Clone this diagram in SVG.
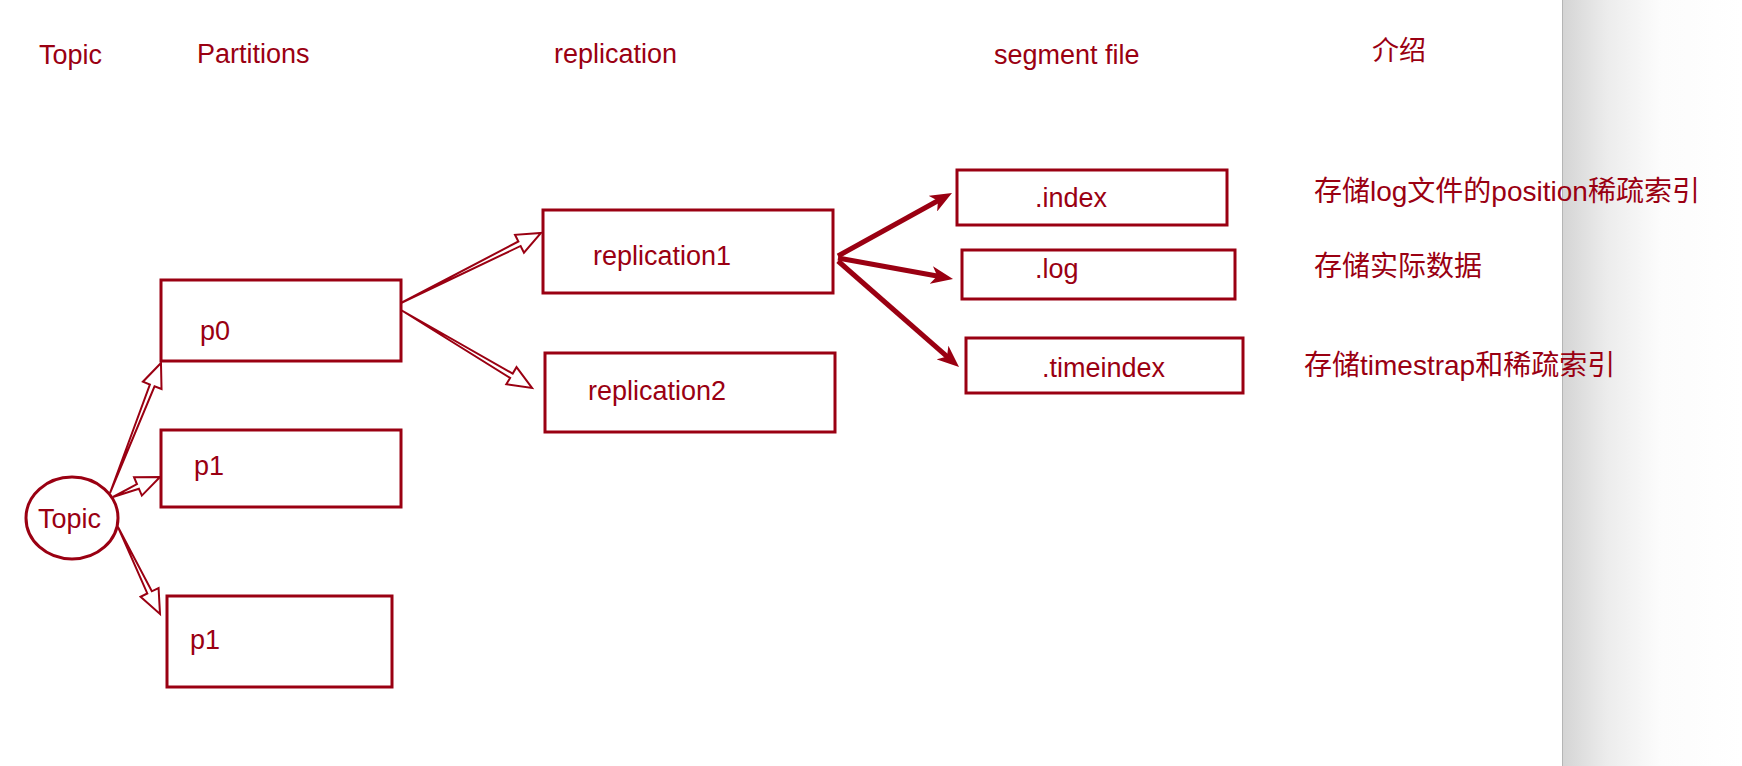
<svg xmlns="http://www.w3.org/2000/svg" width="1742" height="766" viewBox="0 0 1742 766">
<defs>
<linearGradient id="panel" x1="0" y1="0" x2="1" y2="0">
<stop offset="0" stop-color="#d4d4d4"/>
<stop offset="0.25" stop-color="#ececec"/>
<stop offset="0.55" stop-color="#fcfcfc"/>
<stop offset="1" stop-color="#ffffff"/>
</linearGradient>
<marker id="solid" viewBox="0 0 22 18" markerWidth="22" markerHeight="18" refX="10" refY="9" orient="auto" markerUnits="userSpaceOnUse">
<path d="M0,0 L22,9 L0,18 L6,9 z" fill="#9a0012"/>
</marker>
</defs>
<style>
text{font-family:"Liberation Sans","Noto Sans CJK SC",sans-serif;font-size:27px;fill:#9a0012}
.desc{font-size:28px}
.box{fill:#fff;stroke:#9a0012;stroke-width:3}
.hollow{fill:#fff;stroke:#9a0012;stroke-width:2;stroke-linejoin:miter}
.solid{stroke:#9a0012;stroke-width:5;fill:none;marker-end:url(#solid)}
</style>
<rect x="1562" y="0" width="180" height="766" fill="url(#panel)"/>
<line x1="1562.5" y1="0" x2="1562.5" y2="766" stroke="#b5b5b5" stroke-width="1"/>

<g id="headers">
<text x="39" y="64">Topic</text>
<text x="197" y="63">Partitions</text>
<text x="554" y="63">replication</text>
<text x="994" y="64">segment file</text>
<text x="1372" y="60">介绍</text>
</g>

<g id="connectors">
<polygon class="hollow" transform="translate(110,493) rotate(-68.58)" points="0,0 115.6,-2.5 115.6,-10 139.6,0 115.6,10 115.6,2.5"/>
<polygon class="hollow" transform="translate(113,497) rotate(-23.05)" points="0,0 27.1,-2.5 27.1,-10 51.1,0 27.1,10 27.1,2.5"/>
<polygon class="hollow" transform="translate(118,527) rotate(64.23)" points="0,0 72.6,-2.5 72.6,-10 96.6,0 72.6,10 72.6,2.5"/>
<polygon class="hollow" transform="translate(401,303) rotate(-26.57)" points="0,0 132.5,-2.5 132.5,-10 156.5,0 132.5,10 132.5,2.5"/>
<polygon class="hollow" transform="translate(401,310) rotate(30.77)" points="0,0 128.5,-2.5 128.5,-10 152.5,0 128.5,10 128.5,2.5"/>
<line class="solid" x1="838" y1="256" x2="941.5" y2="198.8"/>
<line class="solid" x1="838" y1="258" x2="941.2" y2="276.8"/>
<line class="solid" x1="838" y1="261" x2="950" y2="359.1"/>
</g>

<g id="topic">
<ellipse class="box" cx="72" cy="518" rx="46" ry="41"/>
<text x="38" y="528">Topic</text>
</g>
<g id="p0">
<rect class="box" x="161" y="280" width="240" height="81"/>
<text x="200" y="340">p0</text>
</g>
<g id="p1a">
<rect class="box" x="161" y="430" width="240" height="77"/>
<text x="194" y="475">p1</text>
</g>
<g id="p1b">
<rect class="box" x="167" y="596" width="225" height="91"/>
<text x="190" y="649">p1</text>
</g>
<g id="replication1">
<rect class="box" x="543" y="210" width="290" height="83"/>
<text x="593" y="265">replication1</text>
</g>
<g id="replication2">
<rect class="box" x="545" y="353" width="290" height="79"/>
<text x="588" y="400">replication2</text>
</g>
<g id="index">
<rect class="box" x="957" y="170" width="270" height="55"/>
<text x="1035" y="207">.index</text>
</g>
<g id="log">
<rect class="box" x="962" y="250" width="273" height="49"/>
<text x="1035" y="278">.log</text>
</g>
<g id="timeindex">
<rect class="box" x="966" y="338" width="277" height="55"/>
<text x="1042" y="377">.timeindex</text>
</g>

<g id="descriptions">
<text class="desc" x="1314" y="201">存储log文件的position稀疏索引</text>
<text class="desc" x="1314" y="276">存储实际数据</text>
<text class="desc" x="1304" y="375">存储timestrap和稀疏索引</text>
</g>
</svg>
